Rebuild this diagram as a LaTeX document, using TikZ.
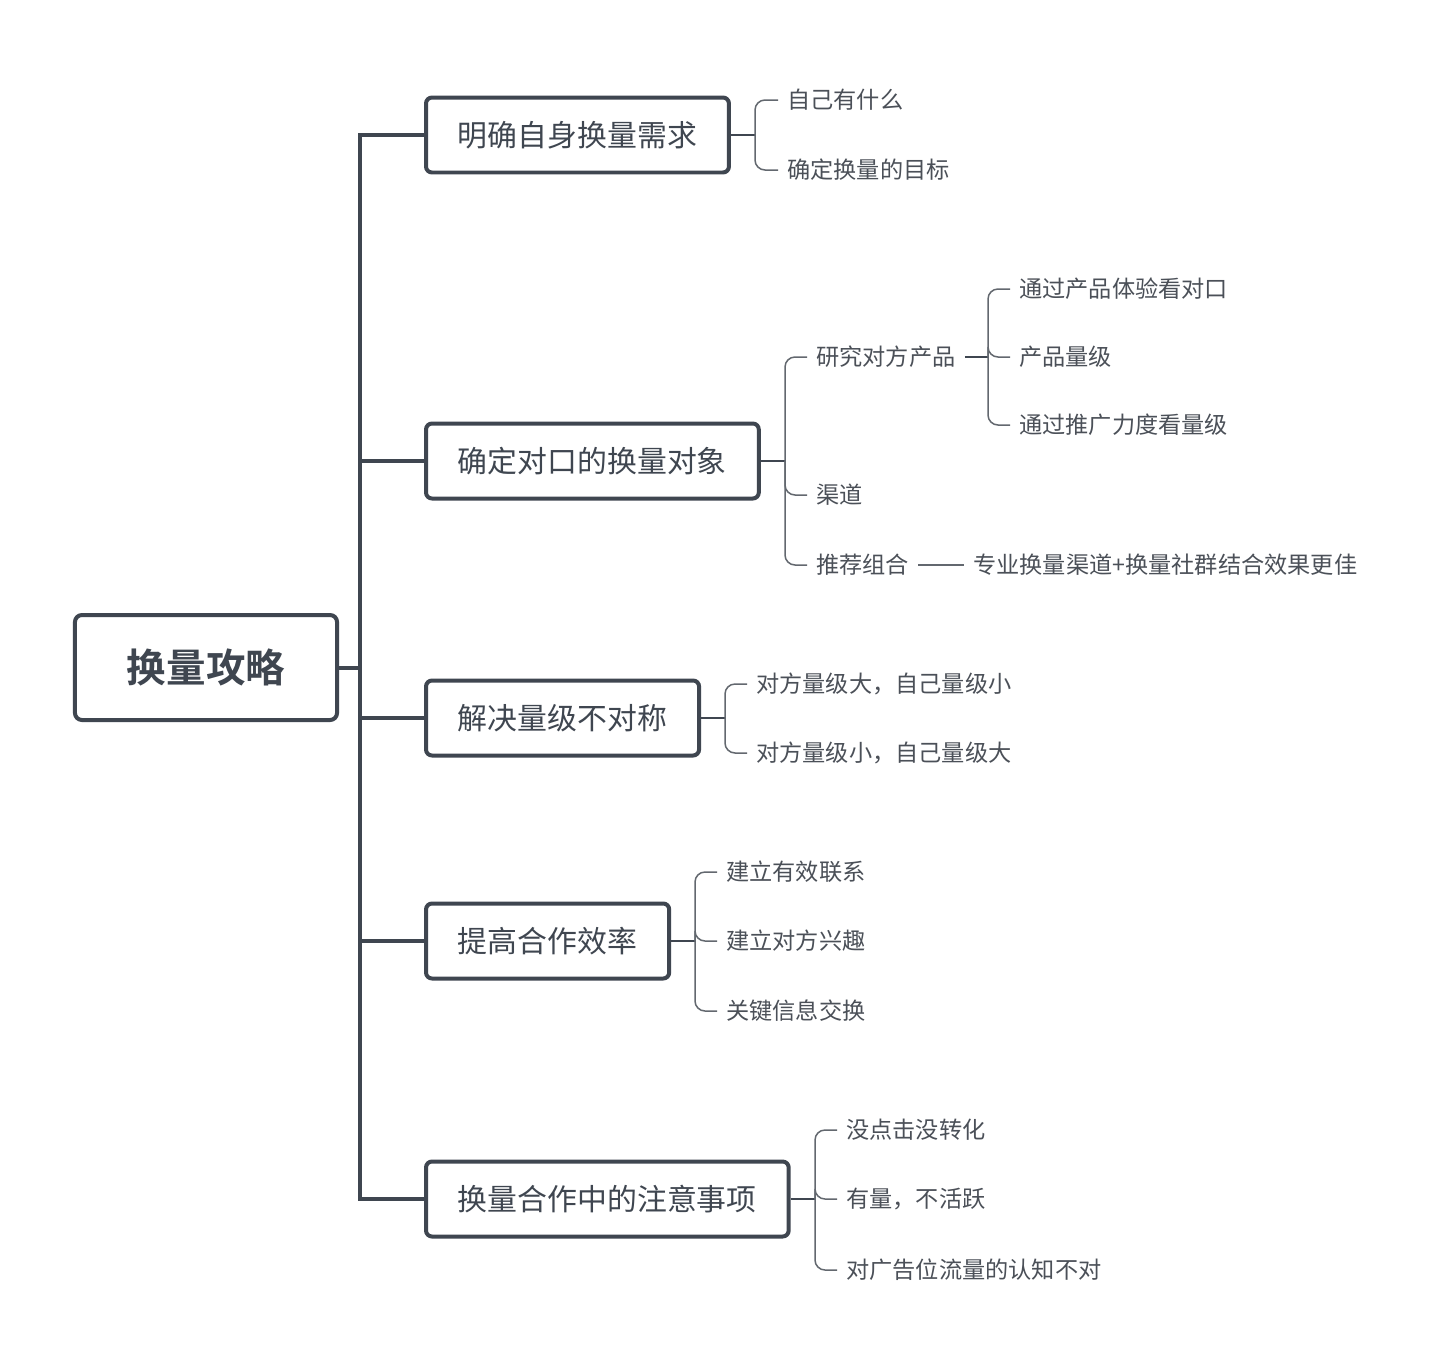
\documentclass[tikz,border=0pt]{standalone}
\usepackage{fontspec}
\newfontfamily\cjk{Noto Sans CJK SC}[BoldFont={Noto Sans CJK SC Bold}]
\usepackage{xcolor}
\usepackage{tikz}
\usetikzlibrary{positioning}
\definecolor{boxcol}{HTML}{3F4650}
\definecolor{linecol}{HTML}{63686F}
\definecolor{txtcol}{HTML}{4B5058}
\tikzset{root node/.style={draw=boxcol,line width=0.08cm,rounded corners=0.14cm,fill=white,minimum height=2.1cm,inner xsep=1.04cm,text=boxcol,font=\cjk\bfseries\fontsize{22.5pt}{26pt}\selectfont},
  main node/.style={draw=boxcol,line width=0.08cm,rounded corners=0.12cm,fill=white,minimum height=1.5cm,inner xsep=0.64cm,text=boxcol,anchor=west,font=\cjk\fontsize{17pt}{20pt}\selectfont},
  leaf node/.style={inner xsep=0.18cm,inner ysep=0.1cm,text=txtcol,anchor=west,font=\cjk\fontsize{13.2pt}{15pt}\selectfont},
  trunk/.style={draw=boxcol,line width=0.08cm},
  stem/.style={draw=boxcol,line width=0.045cm},
  twig/.style={draw=linecol,line width=0.03cm,rounded corners=0.2cm},}

\begin{document}
\begin{tikzpicture}[x=0.02cm,y=-0.02cm]
    \fill[white] (0,0) rectangle (1440,1370);
    \useasboundingbox (0,0) rectangle (1440,1370);

    % root and main branches
    \node[root node] (0) at (206,667.5) {换量攻略};
    \node[main node] (1) at (424,135) {明确自身换量需求};
    \node[main node] (2) at (424,461) {确定对口的换量对象};
    \node[main node] (3) at (424,718) {解决量级不对称};
    \node[main node] (4) at (424,941) {提高合作效率};
    \node[main node] (5) at (424,1199) {换量合作中的注意事项};

    \coordinate (t) at (360,667.5);
    \path[trunk] (0.east) -- (t);
    \foreach \i in {1,...,5}
        \path[trunk] (t) |- (\i.west);

    % leaves
    \node[leaf node] (11) at (778,100) {自己有什么};
    \node[leaf node] (12) at (778,170) {确定换量的目标};

    \node[leaf node] (21) at (807,357) {研究对方产品};
    \node[leaf node] (22) at (807,495) {渠道};
    \node[leaf node] (23) at (807,565) {推荐组合};
    \node[leaf node] (211) at (1010,289) {通过产品体验看对口};
    \node[leaf node] (212) at (1010,357) {产品量级};
    \node[leaf node] (213) at (1010,425) {通过推广力度看量级};
    \node[leaf node] (231) at (964,565) {专业换量渠道+换量社群结合效果更佳};

    \node[leaf node] (31) at (747,684) {对方量级大，自己量级小};
    \node[leaf node] (32) at (747,753) {对方量级小，自己量级大};

    \node[leaf node] (41) at (717,872) {建立有效联系};
    \node[leaf node] (42) at (717,941) {建立对方兴趣};
    \node[leaf node] (43) at (717,1011) {关键信息交换};

    \node[leaf node] (51) at (837,1130) {没点击没转化};
    \node[leaf node] (52) at (837,1199) {有量，不活跃};
    \node[leaf node] (53) at (837,1270) {对广告位流量的认知不对};

    % brackets
    \path[stem] (1.east) -- (755,135) coordinate (1j);
    \path[stem] (2.east) -- (785,461) coordinate (2j);
    \path[stem] (3.east) -- (725,718) coordinate (3j);
    \path[stem] (4.east) -- (695,941) coordinate (4j);
    \path[stem] (5.east) -- (815,1199) coordinate (5j);
    \path[stem] (21.east) -- (988,357) coordinate (21j);

    \foreach \i/\j in {1/11,1/12,2/21,2/22,2/23,3/31,3/32,4/41,4/42,4/43,5/51,5/52,5/53,21/211,21/212,21/213}
        \path[twig] (\i j) |- (\j.west);
    \path[twig] (23.east) -- (231.west);
\end{tikzpicture}
\end{document}
